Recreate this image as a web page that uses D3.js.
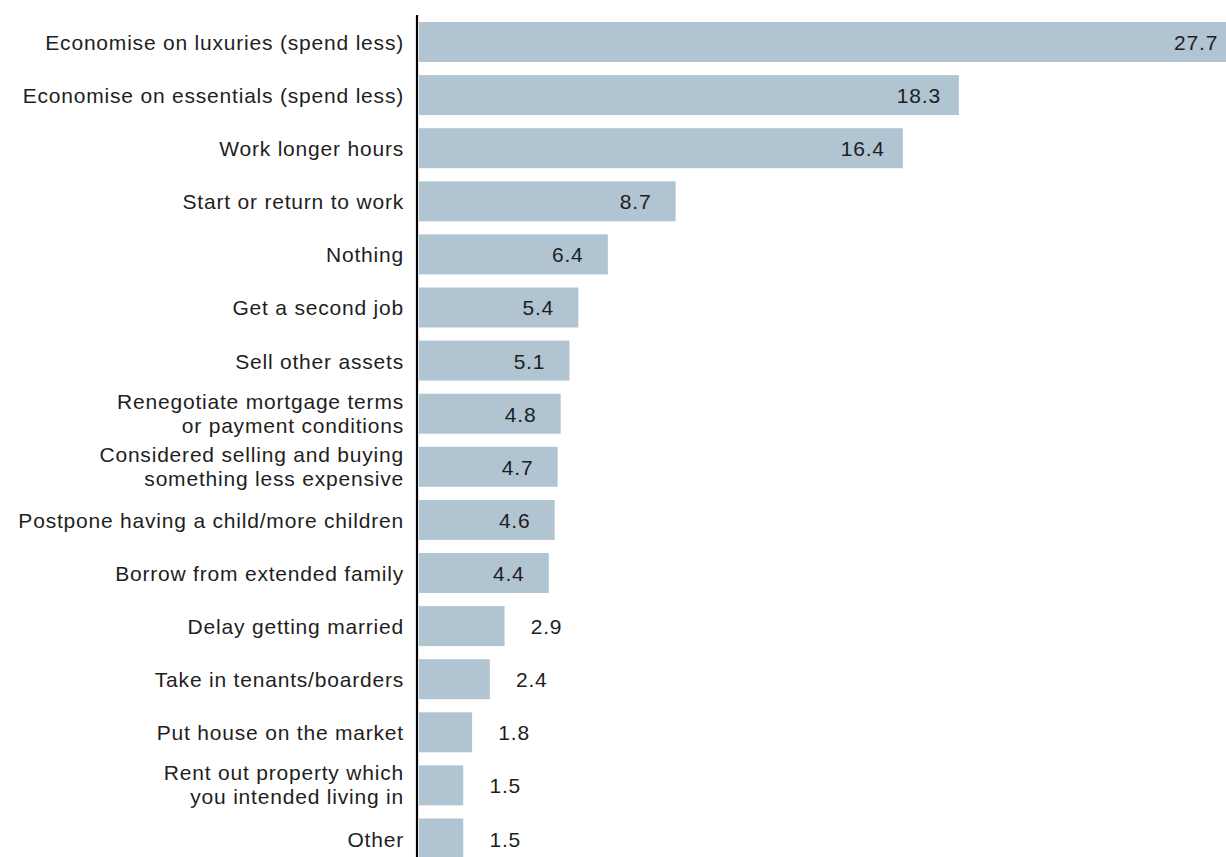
<!DOCTYPE html>
<html>
<head>
<meta charset="utf-8">
<script src="https://cdn.jsdelivr.net/npm/d3@7"></script>
<style>
  html, body { margin: 0; padding: 0; background: #fff; overflow: hidden; }
  svg text { font-family: "Liberation Sans", Arial, sans-serif; fill: #1e1e1e; letter-spacing: 0.8px; }
</style>
</head>
<body>
<svg id="chart" width="1226" height="857"></svg>
<script>
// Responses, in descending order of share (%)
const categories = [
  "Economise on luxuries (spend less)",
  "Economise on essentials (spend less)",
  "Work longer hours",
  "Start or return to work",
  "Nothing",
  "Get a second job",
  "Sell other assets",
  "Renegotiate mortgage terms\nor payment conditions",
  "Considered selling and buying\nsomething less expensive",
  "Postpone having a child/more children",
  "Borrow from extended family",
  "Delay getting married",
  "Take in tenants/boarders",
  "Put house on the market",
  "Rent out property which\nyou intended living in",
  "Other"
];
const values = [27.7, 18.3, 16.4, 8.7, 6.4, 5.4, 5.1, 4.8, 4.7, 4.6, 4.4, 2.9, 2.4, 1.8, 1.5, 1.5];

const svg = d3.select("#chart");
const left = 419;
const fontSize = 21;

const x = d3.scaleLinear().domain([0, 28]).range([left, left + 28 * 29.5]);
const y = d3.scaleBand()
  .domain(categories)
  .range([22, 858.5])
  .paddingInner(0.247)
  .paddingOuter(0);

const rows = categories.map((c, i) => ({ label: c, value: values[i] }));

// Bars
svg.append("g").selectAll("rect")
  .data(rows)
  .join("rect")
  .attr("x", x(0))
  .attr("y", d => y(d.label))
  .attr("width", d => x(d.value) - x(0))
  .attr("height", y.bandwidth())
  .attr("fill", "#b0c4d2");

// Category labels: one text element per line, stacked around the bar centre
const lineH = 24;
const catLines = rows.flatMap(d => {
  const parts = d.label.split("\n");
  return parts.map((text, k) => ({
    text,
    cy: y(d.label) + y.bandwidth() / 2,
    offset: parts.length === 1 ? 8 : (k === 0 ? -5 : -5 + lineH)
  }));
});
svg.append("g").selectAll("text")
  .data(catLines)
  .join("text")
  .attr("text-anchor", "end")
  .attr("font-size", fontSize)
  .attr("x", 404)
  .attr("y", d => d.cy + d.offset)
  .text(d => d.text);

// Value labels: inside the bar for larger values, outside for small ones
svg.append("g").selectAll("text")
  .data(rows)
  .join("text")
  .attr("text-anchor", "middle")
  .attr("font-size", fontSize)
  .attr("x", d => d.value >= 4 ? x(d.value) - 40 : x(d.value) + 42)
  .attr("y", d => y(d.label) + y.bandwidth() / 2 + 8)
  .text(d => d3.format(".1f")(d.value));

// Vertical axis line
svg.append("line")
  .attr("x1", 417).attr("x2", 417)
  .attr("y1", 15).attr("y2", 860)
  .attr("stroke", "#000")
  .attr("stroke-width", 2.2);
</script>
</body>
</html>
